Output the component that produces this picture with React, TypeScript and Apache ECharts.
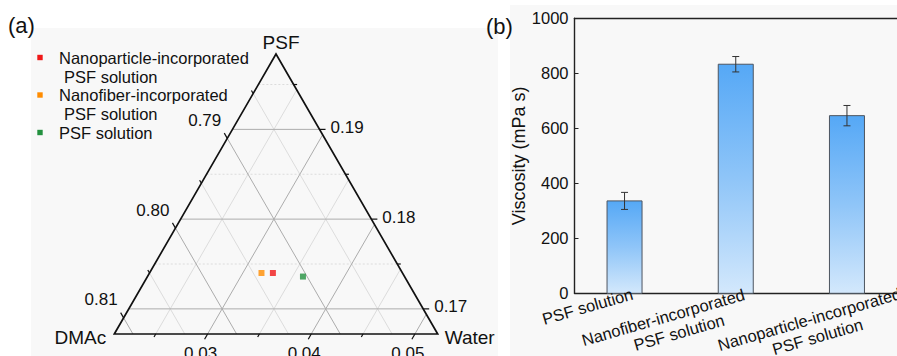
import React, { useEffect, useRef } from 'react';
import * as echarts from 'echarts';

// ---------- (a) ternary data ----------
const CORNER_NAMES = ['PSF', 'DMAc', 'Water'];
const PSF_TICKS = [0.17, 0.18, 0.19];
const DMAC_TICKS = [0.79, 0.8, 0.81];
const WATER_TICKS = [0.03, 0.04, 0.05];
const PSF_MINOR = [0.175, 0.185, 0.195];
const DMAC_MINOR = [0.785, 0.795, 0.805];
const WATER_MINOR = [0.025, 0.035, 0.045];
const PSF_MIN = 0.1672;
const WATER_MIN = 0.021;
const SPAN = 0.0312;
const DMAC_MIN = 1 - PSF_MIN - WATER_MIN - SPAN;

const SAMPLE_NAMES = [
  'Nanoparticle-incorporated\nPSF solution',
  'Nanofiber-incorporated\nPSF solution',
  'PSF solution',
];
const SAMPLE_PSF = [0.174, 0.174, 0.1736];
const SAMPLE_DMAC = [0.7931, 0.7942, 0.7904];
const SAMPLE_WATER = [0.0329, 0.0318, 0.036];
const SAMPLE_COLORS = ['#f01818', '#ff8c00', '#23913f'];

// ---------- (b) bar data ----------
const CATEGORIES = [
  'PSF solution',
  'Nanofiber-incorporated\nPSF solution',
  'Nanoparticle-incorporated\nPSF solution',
];
const VISCOSITY = [336, 833, 646];
const VISCOSITY_ERR = [31, 28, 37];
const Y_MIN = 0;
const Y_MAX = 1000;
const Y_INTERVAL = 200;

// ---------- styles ----------
const FONT = "'Liberation Sans', Arial, Helvetica, sans-serif";
const TXT = '#111';
const SQ = Math.sqrt(3) / 2;
const X_LABEL_OFFSETS = [
  [-37, 13],
  [-70, 33],
  [-35, 35],
];
const X_LABEL_LINE2_PAD = [0, 22, 6];

function tern(psf: number, water: number): number[] {
  const a = (psf - PSF_MIN) / SPAN;
  const c = (water - WATER_MIN) / SPAN;
  return [c + a / 2, a * SQ];
}

function psfLine(p: number) {
  const s = tern(p, WATER_MIN);
  const e = tern(p, 1 - p - DMAC_MIN);
  return [s[0], s[1], e[0], e[1]];
}
function dmacLine(d: number) {
  const s = tern(1 - d - WATER_MIN, WATER_MIN);
  const e = tern(PSF_MIN, 1 - d - PSF_MIN);
  return [s[0], s[1], e[0], e[1]];
}
function waterLine(w: number) {
  const s = tern(PSF_MIN, w);
  const e = tern(1 - w - DMAC_MIN, w);
  return [s[0], s[1], e[0], e[1]];
}

function buildOption() {
  const majorLines = [
    ...PSF_TICKS.map(psfLine),
    ...DMAC_TICKS.map(dmacLine),
    ...WATER_TICKS.map(waterLine),
  ];
  const minorLines = [
    ...PSF_MINOR.map(psfLine),
    ...DMAC_MINOR.map(dmacLine),
    ...WATER_MINOR.map(waterLine),
  ];
  const minorDash = [...PSF_MINOR.map(() => 1), ...DMAC_MINOR.map(() => 0), ...WATER_MINOR.map(() => 0)];

  const ticks: number[][] = [];
  const tickLabels: { pos: number[]; text: string; kind: number }[] = [];
  PSF_TICKS.forEach((p) => {
    const pt = tern(p, 1 - p - DMAC_MIN);
    ticks.push([pt[0], pt[1], 0, 1]);
    tickLabels.push({ pos: pt, text: p.toFixed(2), kind: 0 });
  });
  PSF_MINOR.forEach((p) => {
    const pt = tern(p, 1 - p - DMAC_MIN);
    ticks.push([pt[0], pt[1], 0, 0]);
  });
  DMAC_TICKS.forEach((d) => {
    const pt = tern(1 - d - WATER_MIN, WATER_MIN);
    ticks.push([pt[0], pt[1], 1, 1]);
    tickLabels.push({ pos: pt, text: d.toFixed(2), kind: 1 });
  });
  DMAC_MINOR.forEach((d) => {
    const pt = tern(1 - d - WATER_MIN, WATER_MIN);
    ticks.push([pt[0], pt[1], 1, 0]);
  });
  WATER_TICKS.forEach((w) => {
    const pt = tern(PSF_MIN, w);
    ticks.push([pt[0], pt[1], 2, 1]);
    tickLabels.push({ pos: pt, text: w.toFixed(2), kind: 2 });
  });
  WATER_MINOR.forEach((w) => {
    const pt = tern(PSF_MIN, w);
    ticks.push([pt[0], pt[1], 2, 0]);
  });

  const corners = [
    tern(PSF_MIN + SPAN, WATER_MIN),
    tern(PSF_MIN, WATER_MIN),
    tern(PSF_MIN, WATER_MIN + SPAN),
  ];
  const cornerOffsets = [
    [5, -12, 'center'],
    [-8, 3, 'right'],
    [7, 3, 'left'],
  ];
  const labelOffsets = [
    [11, -2, 'left'],
    [-6, -18, 'right'],
    [-7, 19, 'center'],
  ];
  const dirs = [
    [1, 0],
    [-0.5, -SQ],
    [-0.5, SQ],
  ];

  const lineSeries = (data: number[][], color: string, dashFlags: number[] | null) => ({
    type: 'custom',
    xAxisIndex: 0,
    yAxisIndex: 0,
    silent: true,
    z: 1,
    data,
    renderItem: (params: any, api: any) => {
      const p1 = api.coord([api.value(0), api.value(1)]);
      const p2 = api.coord([api.value(2), api.value(3)]);
      const dashed = dashFlags && dashFlags[params.dataIndex];
      return {
        type: 'line',
        shape: { x1: p1[0], y1: p1[1], x2: p2[0], y2: p2[1] },
        style: { stroke: color, lineWidth: 1, lineDash: dashed ? [2, 2] : null },
      };
    },
  });

  const legendGraphics: any[] = [];
  const legendY = [57.5, 95, 132.5];
  SAMPLE_NAMES.forEach((name, i) => {
    legendGraphics.push({
      type: 'rect',
      shape: { x: 37.3, y: legendY[i] - 2.7, width: 5.4, height: 5.4 },
      style: { fill: SAMPLE_COLORS[i] },
      z: 5,
    });
    name.split('\n').forEach((line, j) => {
      legendGraphics.push({
        type: 'text',
        x: j === 0 ? 59 : 64,
        y: legendY[i] + j * 19,
        style: { text: line, fill: TXT, fontSize: 16.5, fontFamily: FONT, align: 'left', verticalAlign: 'middle' },
        z: 5,
      });
    });
  });

  const labelRich: any = {};
  X_LABEL_LINE2_PAD.forEach((pad, i) => {
    labelRich['l1_' + i] = { fontSize: 16.5, fontFamily: FONT, fill: TXT, lineHeight: 19 };
    labelRich['l2_' + i] = { fontSize: 16.5, fontFamily: FONT, fill: TXT, lineHeight: 19, padding: [0, 0, 0, pad] };
  });

  return {
    animation: false,
    textStyle: { fontFamily: FONT },
    graphic: [
      { type: 'rect', shape: { x: 31, y: 28, width: 467, height: 328 }, style: { fill: '#f8f8f8' }, z: -10, silent: true },
      { type: 'rect', shape: { x: 510, y: 5, width: 387, height: 351 }, style: { fill: '#f8f8f8' }, z: -10, silent: true },
      { type: 'text', x: 8, y: 25, style: { text: '(a)', fill: TXT, fontSize: 22, fontFamily: FONT, verticalAlign: 'middle' }, z: 5 },
      { type: 'text', x: 486, y: 26, style: { text: '(b)', fill: TXT, fontSize: 22, fontFamily: FONT, verticalAlign: 'middle' }, z: 5 },
      ...legendGraphics,
    ],
    grid: [
      { left: 114.3, top: 54, width: 323.4, height: 280, show: false },
      { left: 574.5, top: 18.3, width: 335, height: 275, show: false },
    ],
    xAxis: [
      { gridIndex: 0, type: 'value', min: 0, max: 1, show: false },
      {
        gridIndex: 1,
        type: 'value',
        min: 0.55,
        max: 3.45,
        axisLine: { show: true, onZero: false, lineStyle: { color: '#222', width: 1.4 } },
        axisTick: { show: false },
        axisLabel: { show: false },
        splitLine: { show: false },
      },
      {
        gridIndex: 1,
        type: 'value',
        position: 'top',
        min: 0.55,
        max: 3.45,
        axisLine: { show: true, onZero: false, lineStyle: { color: '#222', width: 1.4 } },
        axisTick: { show: false },
        axisLabel: { show: false },
        splitLine: { show: false },
      },
    ],
    yAxis: [
      { gridIndex: 0, type: 'value', min: 0, max: SQ, show: false },
      {
        gridIndex: 1,
        type: 'value',
        min: Y_MIN,
        max: Y_MAX,
        interval: Y_INTERVAL,
        name: 'Viscosity (mPa s)',
        nameLocation: 'middle',
        nameGap: 44,
        nameTextStyle: { fontSize: 18, color: TXT, fontFamily: FONT },
        axisLine: { show: true, onZero: false, lineStyle: { color: '#222', width: 1.4 } },
        axisTick: { show: true, inside: true, length: 4, lineStyle: { color: '#222' } },
        axisLabel: { fontSize: 16.5, color: TXT, margin: 6, fontFamily: FONT, formatter: (v: number) => String(v) },
        splitLine: { show: false },
      },
    ],
    series: [
      lineSeries(minorLines, '#dcdcdc', minorDash),
      lineSeries(majorLines, '#acacac', null),
      {
        type: 'custom',
        xAxisIndex: 0,
        yAxisIndex: 0,
        silent: true,
        z: 3,
        data: [[0]],
        renderItem: (params: any, api: any) => ({
          type: 'polygon',
          shape: { points: corners.map((c) => api.coord(c)) },
          style: { fill: 'none', stroke: '#111', lineWidth: 1.7 },
        }),
      },
      {
        type: 'custom',
        xAxisIndex: 0,
        yAxisIndex: 0,
        silent: true,
        z: 3,
        data: ticks,
        renderItem: (params: any, api: any) => {
          const p = api.coord([api.value(0), api.value(1)]);
          const d = dirs[api.value(2)];
          const len = api.value(3) ? 6 : 3.5;
          return {
            type: 'line',
            shape: { x1: p[0], y1: p[1], x2: p[0] + d[0] * len, y2: p[1] + d[1] * len },
            style: { stroke: '#111', lineWidth: 1.2 },
          };
        },
      },
      {
        type: 'custom',
        xAxisIndex: 0,
        yAxisIndex: 0,
        silent: true,
        z: 3,
        data: tickLabels.map((t) => [t.pos[0], t.pos[1], t.kind]),
        renderItem: (params: any, api: any) => {
          const p = api.coord([api.value(0), api.value(1)]);
          const o = labelOffsets[api.value(2)];
          return {
            type: 'text',
            x: p[0] + (o[0] as number),
            y: p[1] + (o[1] as number),
            style: {
              text: tickLabels[params.dataIndex].text,
              fill: TXT,
              fontSize: 17,
              fontFamily: FONT,
              align: o[2],
              verticalAlign: 'middle',
            },
          };
        },
      },
      {
        type: 'custom',
        xAxisIndex: 0,
        yAxisIndex: 0,
        silent: true,
        z: 3,
        data: corners,
        renderItem: (params: any, api: any) => {
          const p = api.coord([api.value(0), api.value(1)]);
          const o = cornerOffsets[params.dataIndex];
          return {
            type: 'text',
            x: p[0] + (o[0] as number),
            y: p[1] + (o[1] as number),
            style: {
              text: CORNER_NAMES[params.dataIndex],
              fill: TXT,
              fontSize: 19,
              fontFamily: FONT,
              align: o[2],
              verticalAlign: 'middle',
            },
          };
        },
      },
      ...SAMPLE_NAMES.map((name, i) => ({
        type: 'scatter',
        name,
        xAxisIndex: 0,
        yAxisIndex: 0,
        symbol: 'rect',
        symbolSize: 6,
        z: 4,
        itemStyle: { color: SAMPLE_COLORS[i] },
        data: [tern(SAMPLE_PSF[i], 1 - SAMPLE_PSF[i] - SAMPLE_DMAC[i])],
      })),
      // (b) bars
      {
        type: 'custom',
        xAxisIndex: 1,
        yAxisIndex: 1,
        z: 2,
        data: CATEGORIES.map((_, i) => [i + 1, VISCOSITY[i]]),
        renderItem: (params: any, api: any) => {
          const top = api.coord([api.value(0), api.value(1)]);
          const base = api.coord([api.value(0), 0]);
          const w = 35;
          return {
            type: 'rect',
            shape: { x: top[0] - w / 2, y: top[1], width: w, height: base[1] - top[1] },
            style: {
              fill: new echarts.graphic.LinearGradient(0, 0, 0, 1, [
                { offset: 0, color: '#55a8f6' },
                { offset: 0.5, color: '#8fc5f8' },
                { offset: 1, color: '#d3e8fc' },
              ]),
              stroke: '#4d5560',
              lineWidth: 1,
            },
          };
        },
      },
      {
        type: 'custom',
        xAxisIndex: 1,
        yAxisIndex: 1,
        z: 3,
        data: CATEGORIES.map((_, i) => [i + 1, VISCOSITY[i] - VISCOSITY_ERR[i], VISCOSITY[i] + VISCOSITY_ERR[i]]),
        renderItem: (params: any, api: any) => {
          const lo = api.coord([api.value(0), api.value(1)]);
          const hi = api.coord([api.value(0), api.value(2)]);
          const cw = 3.5;
          const st = { stroke: '#333', lineWidth: 1 };
          return {
            type: 'group',
            children: [
              { type: 'line', shape: { x1: lo[0], y1: lo[1], x2: hi[0], y2: hi[1] }, style: st },
              { type: 'line', shape: { x1: lo[0] - cw, y1: lo[1], x2: lo[0] + cw, y2: lo[1] }, style: st },
              { type: 'line', shape: { x1: hi[0] - cw, y1: hi[1], x2: hi[0] + cw, y2: hi[1] }, style: st },
            ],
          };
        },
      },
      {
        type: 'custom',
        xAxisIndex: 1,
        yAxisIndex: 1,
        z: 3,
        silent: true,
        data: CATEGORIES.map((_, i) => [i + 1, Y_MIN]),
        renderItem: (params: any, api: any) => {
          const i = params.dataIndex;
          const p = api.coord([api.value(0), api.value(1)]);
          const o = X_LABEL_OFFSETS[i];
          const lines = CATEGORIES[i].split('\n');
          const text = lines.map((l, j) => `{${j === 0 ? 'l1_' : 'l2_'}${i}|${l}}`).join('\n');
          return {
            type: 'text',
            x: p[0] + o[0],
            y: p[1] + o[1],
            rotation: (16 * Math.PI) / 180,
            style: {
              text,
              rich: labelRich,
              fill: TXT,
              fontSize: 16.5,
              fontFamily: FONT,
              align: 'center',
              verticalAlign: 'middle',
              lineHeight: 19,
            },
          };
        },
      },
    ],
  };
}

export default function App() {
  const ref = useRef<HTMLDivElement>(null);
  useEffect(() => {
    const chart = echarts.init(ref.current as HTMLDivElement, null, { renderer: 'svg' });
    chart.setOption(buildOption() as any);
    return () => chart.dispose();
  }, []);
  return (
    <div
      ref={ref}
      style={{ position: 'absolute', left: 0, top: 0, width: 897, height: 356, background: '#fff' }}
    />
  );
}
